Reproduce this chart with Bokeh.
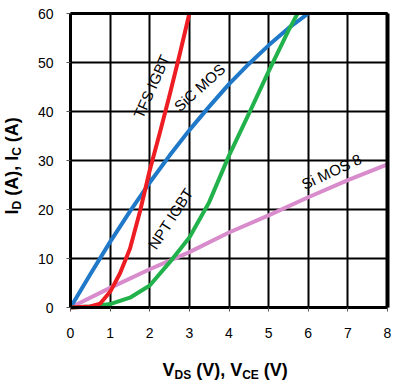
from bokeh.plotting import figure
from bokeh.models import Label, Range1d, FixedTicker, LinearAxis
from bokeh.embed import file_html
from bokeh.resources import INLINE

# ---- data ----
x_ticks = [0, 1, 2, 3, 4, 5, 6, 7, 8]
y_ticks = [0, 10, 20, 30, 40, 50, 60]

sic_x = [0, 0.5, 1, 1.5, 2, 2.5, 3, 3.5, 4, 4.5, 5, 5.5, 6]
sic_y = [0, 6.8, 13.4, 19.6, 25.5, 31, 36.2, 41, 45.6, 49.7, 53.5, 57, 60]

tfs_x = [0, 0.5, 0.75, 1, 1.25, 1.5, 1.75, 2, 2.25, 2.5, 2.75, 3]
tfs_y = [0, 0.2, 0.8, 3.2, 7, 12, 19.5, 28, 35.5, 43.3, 51.5, 60]

npt_x = [0, 0.5, 1, 1.5, 2, 2.5, 3, 3.5, 4, 4.5, 5, 5.5, 5.73]
npt_y = [0, 0.2, 0.7, 2.0, 4.5, 9.2, 14.3, 21.5, 31, 39.5, 48.2, 56.5, 60]

si_x = [0, 1, 2, 3, 4, 5, 6, 7, 8]
si_y = [0, 4, 7.8, 11.3, 15.3, 18.8, 22.5, 26, 29.2]

FONT = "Liberation Sans"

W_FIG, H_FIG = 398, 383
# pixel layout: x 0..8 -> px 70..387, y 0..60 -> px 307..13
PX_X0, PX_X8, PX_Y0, PX_Y60 = 70.0, 387.0, 307.0, 13.0
sxu = (PX_X8 - PX_X0) / 8.0
syu = (PX_Y0 - PX_Y60) / 60.0

x_range = Range1d(-PX_X0 / sxu, 8 + (W_FIG - PX_X8) / sxu)
y_range = Range1d(-(H_FIG - PX_Y0) / syu, 60 + PX_Y60 / syu)

p = figure(width=W_FIG, height=H_FIG, x_range=x_range, y_range=y_range,
           output_backend="svg", toolbar_location=None,
           min_border_left=0, min_border_right=0, min_border_top=0, min_border_bottom=0)

p.background_fill_color = "white"
p.border_fill_color = "white"
p.outline_line_color = None

p.xaxis.ticker = FixedTicker(ticks=x_ticks)
p.yaxis.ticker = FixedTicker(ticks=y_ticks)
p.xgrid.ticker = FixedTicker(ticks=x_ticks)
p.ygrid.ticker = FixedTicker(ticks=y_ticks)
p.xgrid.bounds = (0, 8)
p.xgrid.cross_bounds = (0, 60)
p.ygrid.bounds = (0, 60)
p.ygrid.cross_bounds = (0, 8)
for g in (p.xgrid, p.ygrid):
    g.grid_line_color = "black"
    g.grid_line_width = 2
    g.grid_line_alpha = 1.0

p.xaxis.fixed_location = 0
p.xaxis.bounds = (0, 8)
p.yaxis.fixed_location = 0
p.yaxis.bounds = (0, 60)
for ax in (p.xaxis, p.yaxis):
    ax.axis_line_color = "black"
    ax.axis_line_width = 3
    ax.major_tick_in = 0
    ax.major_tick_out = 4
    ax.major_tick_line_color = "#555555"
    ax.minor_tick_line_color = None
    ax.major_label_text_font = FONT
    ax.major_label_text_font_size = "14px"
    ax.major_label_text_color = "black"
p.xaxis.major_label_standoff = 16
p.yaxis.major_label_standoff = 13

# heavy top and right frame lines
top_ax = LinearAxis(fixed_location=60, bounds=(0, 8), ticker=FixedTicker(ticks=[]),
                    axis_line_width=3, axis_line_color="black",
                    major_tick_line_color=None, minor_tick_line_color=None,
                    major_label_text_font_size="0px")
right_ax = LinearAxis(fixed_location=8, bounds=(0, 60), ticker=FixedTicker(ticks=[]),
                      axis_line_width=4, axis_line_color="black",
                      major_tick_line_color=None, minor_tick_line_color=None,
                      major_label_text_font_size="0px")
p.add_layout(top_ax, "above")
p.add_layout(right_ax, "right")

p.line(si_x, si_y, line_color="#d98ccc", line_width=4, line_join="round")
p.line(sic_x, sic_y, line_color="#1f78c8", line_width=4, line_join="round")
p.line(npt_x, npt_y, line_color="#22b24c", line_width=4, line_join="round")
p.line(tfs_x, tfs_y, line_color="#ee1d23", line_width=4, line_join="round")


def dx(px):
    return (px - PX_X0) / sxu


def dy(py):
    return (PX_Y0 - py) / syu


# curve labels (positions in page pixels -> data)
for txt, px, py, ang in [("TFS IGBT", 151, 86, 66), ("SiC MOS", 199, 87, 42),
                         ("NPT IGBT", 170, 218, 57), ("Si MOS 8", 331, 171, 25)]:
    p.add_layout(Label(x=dx(px), y=dy(py), text=txt, angle=ang, angle_units="deg",
                       text_align="center", text_baseline="middle",
                       text_font=FONT, text_font_size="15px", text_color="black"))

W = {' ': 278, '(': 333, ')': 333, ',': 278, 'A': 722, 'C': 722, 'D': 722,
     'E': 667, 'I': 278, 'S': 667, 'V': 667}


def tw(s, size):
    return sum(W[c] for c in s) * size / 1000.0


MAIN, SUB, SHIFT = 18, 12, 5

# x axis label: pieces laid out left to right; spaces are advanced, not drawn
pieces_x = [("V", 0), ("DS", 1), (" (V), ", 0), ("V", 0), ("CE", 1), (" (V)", 0)]
cur = 162.0
base = 369.0
for t, s in pieces_x:
    size = SUB if s else MAIN
    lead = len(t) - len(t.lstrip(" "))
    p.add_layout(Label(x=dx(cur + tw(" " * lead, size)), y=dy(base + (SHIFT if s else 0)),
                       text=t.strip(" "), text_font=FONT, text_font_size=f"{size}px",
                       text_font_style="bold", text_align="left", text_baseline="alphabetic",
                       text_color="black"))
    cur += tw(t, size)

# y axis label (rotated), laid out bottom to top
pieces_y = [("I", 0), ("D", 1), (" (A), ", 0), ("I", 0), ("C", 1), (" (A)", 0)]
cur = 214.0
basex = 11.0
for t, s in pieces_y:
    size = SUB if s else MAIN
    lead = len(t) - len(t.lstrip(" "))
    p.add_layout(Label(x=dx(basex + (SHIFT if s else 0)), y=dy(cur - tw(" " * lead, size)),
                       text=t.strip(" "), angle=90, angle_units="deg", text_font=FONT,
                       text_font_size=f"{size}px", text_font_style="bold", text_align="left",
                       text_baseline="alphabetic", text_color="black"))
    cur -= tw(t, size)

open("out.html", "w").write(file_html(p, INLINE))
